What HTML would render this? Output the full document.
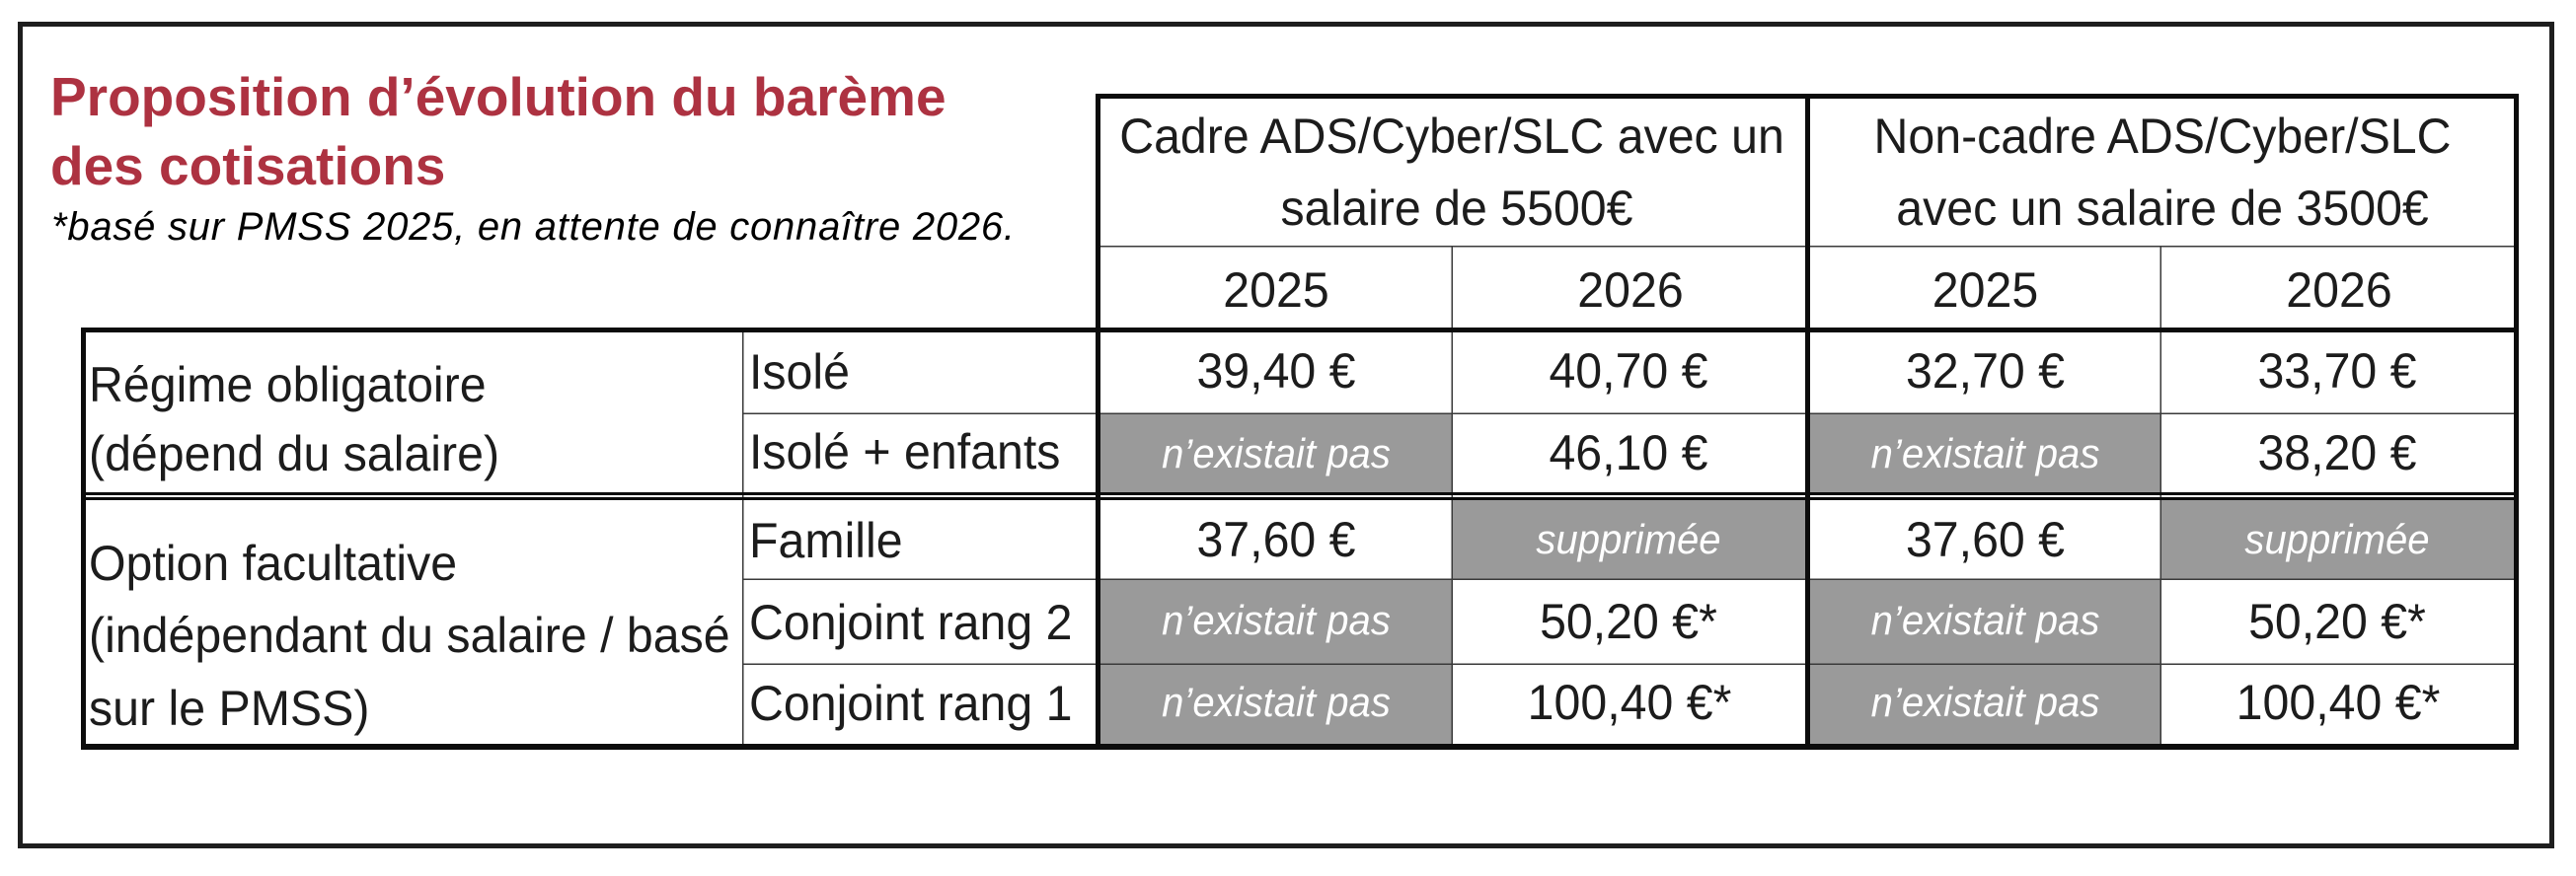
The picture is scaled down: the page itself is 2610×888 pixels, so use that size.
<!DOCTYPE html>
<html>
<head>
<meta charset="utf-8">
<style>
  html, body { margin: 0; padding: 0; background: #ffffff; }
  svg { display: block; }
  text { font-family: "Liberation Sans", Arial, sans-serif; }
  .t { font-size: 50px; fill: #1c1c1c; }
  .g { font-size: 41.5px; fill: #ffffff; font-style: italic; }
  .title { font-size: 55px; font-weight: bold; fill: #ad3241; }
  .sub { font-size: 40px; font-style: italic; fill: #000000; }
</style>
</head>
<body>
<svg width="2610" height="888" viewBox="0 0 2610 888" xmlns="http://www.w3.org/2000/svg">
  <rect x="0" y="0" width="2610" height="888" fill="#ffffff"/>
  <!-- outer border -->
  <rect x="20.5" y="24.5" width="2565" height="833" fill="none" stroke="#1e1e1e" stroke-width="5"/>

  <!-- title -->
  <text class="title" x="51" y="117">Proposition d’évolution du barème</text>
  <text class="title" x="51" y="187">des cotisations</text>
  <text class="sub" x="52" y="243" textLength="976" lengthAdjust="spacing">*basé sur PMSS 2025, en attente de connaître 2026.</text>

  <!-- gray cells -->
  <g fill="#9a9a9a">
    <rect x="1115" y="419" width="356" height="80"/>
    <rect x="1834" y="419" width="355" height="80"/>
    <rect x="1471" y="507" width="358" height="80"/>
    <rect x="2189" y="507" width="358" height="80"/>
    <rect x="1115" y="587" width="356" height="86"/>
    <rect x="1834" y="587" width="355" height="86"/>
    <rect x="1115" y="673" width="356" height="81"/>
    <rect x="1834" y="673" width="355" height="81"/>
  </g>

  <!-- thin lines -->
  <g fill="#3a3a3a">
    <rect x="1115" y="249" width="1432" height="1.5"/>
    <rect x="752" y="337" width="1.5" height="417"/>
    <rect x="1470.5" y="250" width="1.5" height="504"/>
    <rect x="2188.5" y="250" width="1.5" height="504"/>
    <rect x="752" y="418.5" width="1795" height="1.5"/>
    <rect x="752" y="586.5" width="1795" height="1.5"/>
    <rect x="752" y="672.5" width="1795" height="1.5"/>
  </g>

  <!-- thick lines -->
  <g fill="#0c0c0c">
    <rect x="1110" y="95" width="1442" height="5"/>
    <rect x="1110" y="95" width="5" height="665"/>
    <rect x="1829" y="95" width="5" height="665"/>
    <rect x="2547" y="95" width="5" height="665"/>
    <rect x="82" y="332" width="2470" height="5"/>
    <rect x="82" y="332" width="5" height="428"/>
    <rect x="82" y="754" width="2470" height="6"/>
    <rect x="82" y="499" width="2470" height="3"/>
    <rect x="82" y="504" width="2470" height="3"/>
  </g>

  <!-- header texts -->
  <g class="t" text-anchor="middle">
    <text transform="translate(1471,155) scale(0.966,1)">Cadre ADS/Cyber/SLC avec un</text>
    <text transform="translate(1476,228) scale(0.966,1)">salaire de 5500€</text>
    <text transform="translate(2191,155) scale(0.966,1)">Non-cadre ADS/Cyber/SLC</text>
    <text transform="translate(2191,228) scale(0.966,1)">avec un salaire de 3500€</text>
    <text transform="translate(1293,311) scale(0.966,1)">2025</text>
    <text transform="translate(1652,311) scale(0.966,1)">2026</text>
    <text transform="translate(2011.5,311) scale(0.966,1)">2025</text>
    <text transform="translate(2370,311) scale(0.966,1)">2026</text>
  </g>

  <!-- left labels -->
  <g class="t">
    <text transform="translate(90,407) scale(0.966,1)">Régime obligatoire</text>
    <text transform="translate(90,477) scale(0.966,1)">(dépend du salaire)</text>
    <text transform="translate(90,588) scale(0.966,1)">Option facultative</text>
    <text transform="translate(90,661) scale(0.966,1)">(indépendant du salaire / basé</text>
    <text transform="translate(90,735) scale(0.966,1)">sur le PMSS)</text>

    <text transform="translate(759,394) scale(0.966,1)">Isolé</text>
    <text transform="translate(759,475) scale(0.966,1)">Isolé + enfants</text>
    <text transform="translate(759,565) scale(0.966,1)">Famille</text>
    <text transform="translate(759,648) scale(0.966,1)">Conjoint rang 2</text>
    <text transform="translate(759,730) scale(0.966,1)">Conjoint rang 1</text>
  </g>

  <!-- values -->
  <g class="t" text-anchor="middle">
    <text transform="translate(1293,393) scale(0.966,1)">39,40 €</text>
    <text transform="translate(1650,393) scale(0.966,1)">40,70 €</text>
    <text transform="translate(2011.5,393) scale(0.966,1)">32,70 €</text>
    <text transform="translate(2368,393) scale(0.966,1)">33,70 €</text>

    <text transform="translate(1650,476) scale(0.966,1)">46,10 €</text>
    <text transform="translate(2368,476) scale(0.966,1)">38,20 €</text>

    <text transform="translate(1293,564) scale(0.966,1)">37,60 €</text>
    <text transform="translate(2011.5,564) scale(0.966,1)">37,60 €</text>

    <text transform="translate(1650,647) scale(0.966,1)">50,20 €*</text>
    <text transform="translate(2368,647) scale(0.966,1)">50,20 €*</text>

    <text transform="translate(1651,729) scale(0.966,1)">100,40 €*</text>
    <text transform="translate(2369,729) scale(0.966,1)">100,40 €*</text>
  </g>

  <!-- gray cell texts -->
  <g class="g" text-anchor="middle">
    <text transform="translate(1293,474) scale(0.966,1)">n’existait pas</text>
    <text transform="translate(2011.5,474) scale(0.966,1)">n’existait pas</text>
    <text transform="translate(1650,561) scale(0.966,1)">supprimée</text>
    <text transform="translate(2368,561) scale(0.966,1)">supprimée</text>
    <text transform="translate(1293,643) scale(0.966,1)">n’existait pas</text>
    <text transform="translate(2011.5,643) scale(0.966,1)">n’existait pas</text>
    <text transform="translate(1293,726) scale(0.966,1)">n’existait pas</text>
    <text transform="translate(2011.5,726) scale(0.966,1)">n’existait pas</text>
  </g>
</svg>
</body>
</html>
